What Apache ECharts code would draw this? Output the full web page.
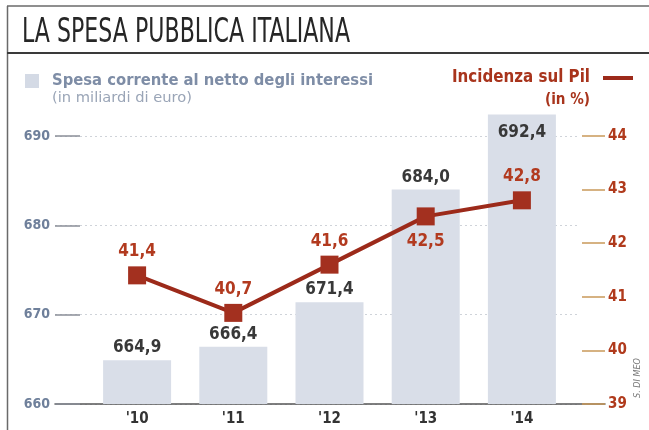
<!DOCTYPE html>
<html>
<head>
<meta charset="utf-8">
<script src="https://cdn.jsdelivr.net/npm/echarts@6/dist/echarts.min.js"></script>
<style>
html,body{margin:0;padding:0;background:#fff;}
#c{width:649px;height:430px;}
</style>
</head>
<body>
<div id="c"></div>
<script>
// ---- data ----
const categories = ["'10", "'11", "'12", "'13", "'14"];
const spesaCorrente = [664.9, 666.4, 671.4, 684.0, 692.4];
const incidenzaPil = [41.4, 40.7, 41.6, 42.5, 42.8];
const leftAxisRange = [660, 690];
const rightAxisRange = [39, 44];

// ---- styling ----
const F = "'Liberation Sans Narrow','DejaVu Sans Condensed','Liberation Sans',sans-serif";
const fmt = v => v.toFixed(1).replace('.', ',');
function fitScale(text, font, width) {
  const ctx = document.createElement('canvas').getContext('2d');
  ctx.font = font;
  return width / ctx.measureText(text).width;
}
function txt(text, x, y, font, fill, width, align) {
  const s = fitScale(text, font, width);
  return {
    type: 'text', x: x, y: y, scaleX: s, originX: 0, originY: 0, z: 10,
    style: { text: text, font: font, fill: fill, align: align || 'left', verticalAlign: 'middle',
             textAlign: align || 'left', textVerticalAlign: 'middle' }
  };
}

const titleFont = "normal 33px " + F;
const legFont1 = "bold 16px " + F;
const legFont2 = "normal 14px " + F;
const legFontR = "bold 17px " + F;

const barLabelPos = ['top', 'top', 'top', 'top', 'insideTop'];
const lineLabelPos = ['top', 'top', 'top', 'bottom', 'top'];

const chart = echarts.init(document.getElementById('c'), null, { renderer: 'canvas' });
chart.setOption({
  animation: false,
  backgroundColor: '#ffffff',
  grid: [
    { left: 89, right: 79, top: 109.2, bottom: 26, outerBoundsMode: 'none' },
    { left: 55, right: 69, top: 136, bottom: 26, outerBoundsMode: 'none' },
    { left: 55, right: 44, top: 136, bottom: 26, outerBoundsMode: 'none' }
  ],
  xAxis: [
    { gridIndex: 0, type: 'category', data: categories,
      axisLine: { show: false }, axisTick: { show: false },
      axisLabel: { margin: 8, color: '#333', fontWeight: 'bold', fontSize: 15, fontFamily: F } },
    { gridIndex: 1, type: 'value', min: 0, max: 1, show: false },
    { gridIndex: 2, type: 'value', min: 0, max: 1,
      axisLine: { show: true, onZero: false, lineStyle: { color: '#555', width: 1.5 } },
      axisTick: { show: false }, axisLabel: { show: false }, splitLine: { show: false } }
  ],
  yAxis: [
    { gridIndex: 0, type: 'value', min: 660, max: 693, show: false },
    { gridIndex: 0, type: 'value', min: 39, max: 44.5, show: false, position: 'right' },
    { gridIndex: 1, type: 'value', min: leftAxisRange[0], max: leftAxisRange[1], interval: 10, position: 'left',
      axisLine: { show: false, onZero: false },
      axisTick: { show: true, inside: true, length: 25, lineStyle: { color: '#8a8f98', width: 1.5 } },
      axisLabel: { margin: 5, color: '#6f809b', fontWeight: 'bold', fontSize: 14, fontFamily: F },
      splitLine: { show: true, lineStyle: { type: [2, 3], color: '#cfd3d9', width: 1 } } },
    { gridIndex: 2, type: 'value', min: rightAxisRange[0], max: rightAxisRange[1], interval: 1, position: 'right',
      axisLine: { show: false, onZero: false },
      axisTick: { show: true, inside: true, length: 23, lineStyle: { color: '#c9995a', width: 1.5 } },
      axisLabel: { margin: 3, color: '#b03a1c', fontWeight: 'bold', fontSize: 15, fontFamily: F },
      splitLine: { show: false } }
  ],
  series: [
    { type: 'bar', xAxisIndex: 0, yAxisIndex: 0, barWidth: 68, z: 2,
      itemStyle: { color: '#d9dee8' },
      data: spesaCorrente.map((v, i) => ({
        value: v,
        label: { show: true, position: barLabelPos[i], distance: i === 4 ? 10 : 4,
                 formatter: p => fmt(p.value), color: '#383838', fontWeight: 'bold', fontSize: 17, fontFamily: F }
      })) },
    { type: 'line', xAxisIndex: 0, yAxisIndex: 1, z: 5,
      symbol: 'rect', symbolSize: 18,
      lineStyle: { color: '#9c2a1a', width: 4 },
      itemStyle: { color: '#a3301f' },
      data: incidenzaPil.map((v, i) => ({
        value: v,
        label: { show: true, position: lineLabelPos[i], distance: lineLabelPos[i] === 'bottom' ? 8 : 6,
                 formatter: p => fmt(p.value), color: '#b23a1f', fontWeight: 'bold', fontSize: 17, fontFamily: F }
      })) }
  ],
  graphic: [
    { type: 'line', shape: { x1: 7, y1: 6, x2: 649, y2: 6 }, style: { stroke: '#6a6a6a', lineWidth: 1.5 } },
    { type: 'line', shape: { x1: 7.5, y1: 6, x2: 7.5, y2: 430 }, style: { stroke: '#6a6a6a', lineWidth: 1.5 } },
    { type: 'line', shape: { x1: 7, y1: 53, x2: 649, y2: 53 }, style: { stroke: '#3a3a3a', lineWidth: 2 } },
    txt('LA SPESA PUBBLICA ITALIANA', 22, 33, titleFont, '#262626', 328),
    { type: 'rect', shape: { x: 25, y: 74, width: 14, height: 14 }, style: { fill: '#d4dae5' } },
    txt('Spesa corrente al netto degli interessi', 52, 81, legFont1, '#7e8da6', 321),
    txt('(in miliardi di euro)', 52, 98, legFont2, '#9aa5b7', 140),
    txt('Incidenza sul Pil', 590, 78, legFontR, '#a8341c', 138, 'right'),
    { type: 'line', shape: { x1: 603, y1: 78, x2: 633, y2: 78 }, style: { stroke: '#9c2a1a', lineWidth: 4 } },
    txt('(in %)', 590, 100, "bold 15px " + F, '#a8341c', 45, 'right'),
    { type: 'text', x: 638, y: 378, rotation: Math.PI / 2, z: 10,
      style: { text: 'S. DI MEO', font: "italic 9px " + F, fill: '#777', align: 'center', verticalAlign: 'middle',
               textAlign: 'center', textVerticalAlign: 'middle' } }
  ]
});
</script>
</body>
</html>
